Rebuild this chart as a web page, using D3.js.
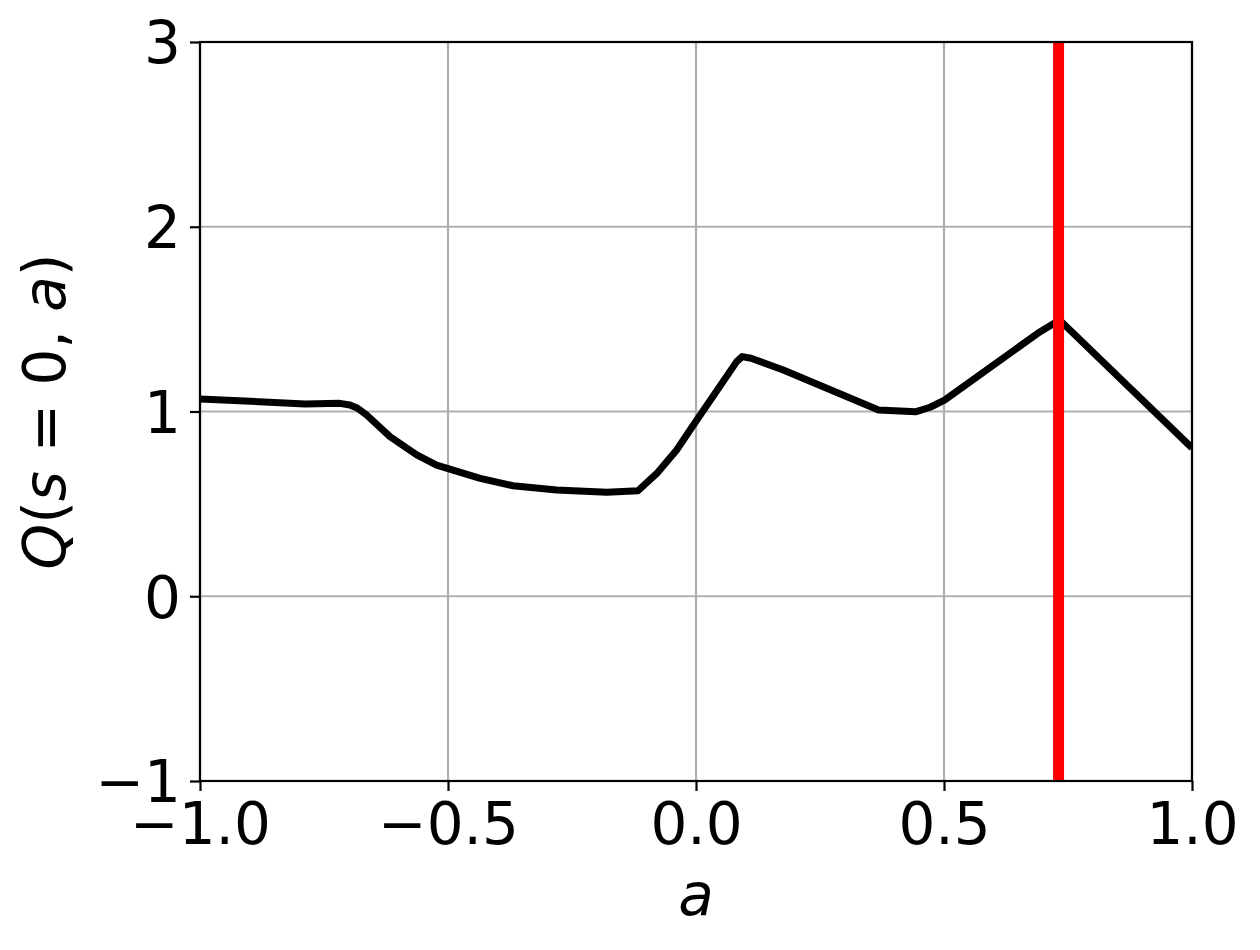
<!DOCTYPE html>
<html>
<head>
<meta charset="utf-8">
<script src="https://cdn.jsdelivr.net/npm/d3@7"></script>
<style>
  body { margin: 0; background: #fff; }
  text { font-family: "DejaVu Sans", sans-serif; fill: #000; }
</style>
</head>
<body>
<svg id="chart" width="1260" height="950"></svg>
<script>
// Q(s=0, a)
var actions = [-1, -0.788, -0.718, -0.698, -0.683, -0.664, -0.617, -0.563, -0.523, -0.435, -0.369, -0.281,
    -0.18, -0.117, -0.079, -0.039, -0.012, 0.082, 0.093, 0.111, 0.176, 0.368, 0.444, 0.472, 0.501,
    0.689, 0.733, 1.0];
var qValues = [1.068, 1.041, 1.044, 1.035, 1.019, 0.981, 0.864, 0.765, 0.71, 0.638, 0.598, 0.575,
    0.563, 0.571, 0.665, 0.792, 0.90, 1.270, 1.297, 1.288, 1.225, 1.008, 0.999, 1.023, 1.062,
    1.423, 1.495, 0.803];
var bestAction = 0.731;

var xTicks = [-1.0, -0.5, 0.0, 0.5, 1.0];
var yTicks = [-1, 0, 1, 2, 3];

var margin = { left: 200, top: 42 };
var width = 992, height = 739;
var fontSize = 58;

var svg = d3.select("#chart");
var g = svg.append("g").attr("transform", "translate(" + margin.left + "," + margin.top + ")");

var x = d3.scaleLinear().domain([-1, 1]).range([0, width]);
var y = d3.scaleLinear().domain([-1, 3]).range([height, 0]);

// grid
g.selectAll(".gx").data(xTicks).enter().append("line")
    .attr("x1", d => x(d)).attr("x2", d => x(d))
    .attr("y1", 0).attr("y2", height)
    .attr("stroke", "#b0b0b0").attr("stroke-width", 2.2);
g.selectAll(".gy").data(yTicks).enter().append("line")
    .attr("x1", 0).attr("x2", width)
    .attr("y1", d => y(d)).attr("y2", d => y(d))
    .attr("stroke", "#b0b0b0").attr("stroke-width", 2.2);

// Q curve
var line = d3.line()
    .x((d, i) => x(actions[i]))
    .y(d => y(d));

g.append("clipPath").attr("id", "clip")
    .append("rect").attr("width", width).attr("height", height);

g.append("path")
    .datum(qValues)
    .attr("clip-path", "url(#clip)")
    .attr("d", line)
    .attr("fill", "none")
    .attr("stroke", "#000")
    .attr("stroke-width", 7)
    .attr("stroke-linejoin", "round")
    .attr("stroke-linecap", "butt");

// best action
g.append("line")
    .attr("x1", x(bestAction)).attr("x2", x(bestAction))
    .attr("y1", 0).attr("y2", height)
    .attr("stroke", "#ff0000").attr("stroke-width", 11);

// axes
var fmtX = d => d3.format(".1f")(d).replace("-", "\u2212");
var fmtY = d => String(d).replace("-", "\u2212");

var xAxis = g.append("g").attr("transform", "translate(0," + height + ")")
    .call(d3.axisBottom(x).tickValues(xTicks).tickFormat(fmtX).tickSizeOuter(0).tickSize(10).tickPadding(9));
var yAxis = g.append("g")
    .call(d3.axisLeft(y).tickValues(yTicks).tickFormat(fmtY).tickSizeOuter(0).tickSize(10).tickPadding(9));

[xAxis, yAxis].forEach(function (ax) {
    ax.select(".domain").remove();
    ax.selectAll(".tick line").attr("stroke", "#000").attr("stroke-width", 2.2);
    ax.selectAll(".tick text")
        .style("font-family", "DejaVu Sans")
        .style("font-size", fontSize + "px")
        .attr("fill", "#000");
});
xAxis.selectAll(".tick text").attr("dy", "0.76em");
yAxis.selectAll(".tick text").attr("dy", "0.36em");

// frame
g.append("rect")
    .attr("width", width).attr("height", height)
    .attr("fill", "none").attr("stroke", "#000").attr("stroke-width", 2.2);

// axis labels
svg.append("text")
    .attr("x", margin.left + width / 2)
    .attr("y", 915)
    .attr("text-anchor", "middle")
    .style("font-size", fontSize + "px")
    .style("font-style", "italic")
    .text("a");

var yl = svg.append("text")
    .attr("transform", "translate(65," + (margin.top + height / 2) + ") rotate(-90)")
    .attr("text-anchor", "middle")
    .style("font-size", fontSize + "px");
[["Q", true], ["(", false], ["s", true], [" = ", false], ["0,", false], [" a", true], [")", false]]
    .forEach(function (p) {
        yl.append("tspan").style("font-style", p[1] ? "italic" : "normal").text(p[0]);
    });
</script>
</body>
</html>
